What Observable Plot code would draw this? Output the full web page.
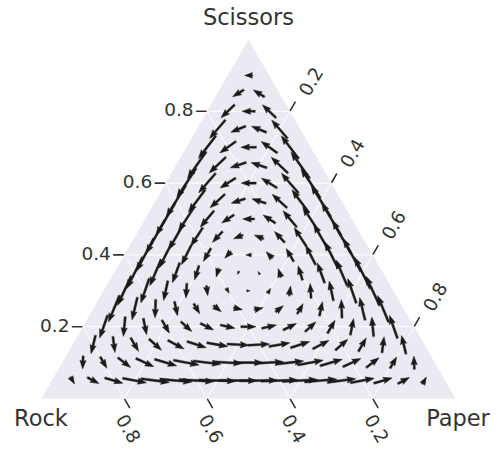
<!DOCTYPE html>
<html>
<head>
<meta charset="utf-8">
<script src="https://cdn.jsdelivr.net/npm/d3@7"></script>
<script src="https://cdn.jsdelivr.net/npm/@observablehq/plot@0.6"></script>
<style>
  html, body { margin: 0; padding: 0; background: #fff; }
</style>
</head>
<body>
<div id="chart"></div>
<script>
// Rock–paper–scissors replicator dynamics drawn on the simplex
const strategies = ["Rock", "Paper", "Scissors"];
// payoff[i][j]: payoff of strategy i when it meets strategy j
const payoff = [
  [0, -1, 1],
  [1, 0, -1],
  [-1, 1, 0]
];
const gridSteps = 20;                 // field sampled at interior multiples of 1/20
const tickValues = [0.2, 0.4, 0.6, 0.8];
const tickLabels = ["0.2", "0.4", "0.6", "0.8"];

const H = Math.sqrt(3) / 2;
// barycentric (rock, paper, scissors) -> cartesian
const toXY = ([r, p, s]) => [p + s / 2, s * H];

// replicator velocity at every interior grid point
const field = [];
for (let i = 1; i < gridSteps; i++) {
  for (let j = 1; i + j < gridSteps; j++) {
    const k = gridSteps - i - j;
    const share = [i, j, k].map((v) => v / gridSteps);
    const fitness = payoff.map((row) => d3.sum(row, (a, c) => a * share[c]));
    const mean = d3.sum(share, (v, c) => v * fitness[c]);
    const d = share.map((v, c) => v * (fitness[c] - mean));
    const [x, y] = toXY(share);
    const vx = d[1] + d[2] / 2, vy = d[2] * H;
    field.push({x, y, speed: Math.hypot(vx, vy), angle: Math.atan2(vx, vy) * 180 / Math.PI});
  }
}

const corners = [[1, 0, 0], [0, 1, 0], [0, 0, 1], [1, 0, 0]];

// white grid lines of constant scissors, paper and rock share
const gridLines = tickValues.flatMap((t) => [
  [[1 - t, 0, t], [0, 1 - t, t]],
  [[1 - t, t, 0], [0, t, 1 - t]],
  [[t, 1 - t, 0], [t, 0, 1 - t]]
]).map(([a, b]) => {
  const [x1, y1] = toXY(a), [x2, y2] = toXY(b);
  return {x1, y1, x2, y2};
});

// tick anchors on each edge
const axisPoints = (f) => tickValues.map((t, n) => {
  const [x, y] = toXY(f(t));
  return {x, y, label: tickLabels[n]};
});
const scissorsTicks = axisPoints((t) => [1 - t, 0, t]); // left edge
const paperTicks = axisPoints((t) => [0, t, 1 - t]);    // right edge
const rockTicks = axisPoints((t) => [t, 1 - t, 0]);     // bottom edge

// filled quiver arrow, tail at origin, pointing up
const shaft = 2.1, headWidth = 3 * shaft, headLength = 4.2 * shaft, headAxis = 3.8 * shaft;
const arrowShape = {
  draw(context, l) {
    const short = l < headLength;
    const s = short ? l / headLength : 1;
    const L = short ? headLength : l;
    const pts = [
      [-shaft / 2, 0], [-shaft / 2, L - headAxis], [-headWidth / 2, L - headLength], [0, L],
      [headWidth / 2, L - headLength], [shaft / 2, L - headAxis], [shaft / 2, 0]
    ];
    pts.forEach(([u, a], n) => n ? context.lineTo(u * s, -a * s) : context.moveTo(u * s, -a * s));
    context.closePath();
  }
};
// short tick stroke, leaving a small gap at the edge
const tickShape = {
  draw(context, l) {
    context.moveTo(0, -1);
    context.lineTo(0, -l);
  }
};

const ink = "#333";
const tickFont = 18.5, titleFont = 22.5;
const tickMark = (data, rotate) => Plot.vector(data, {
  x: "x", y: "y", length: 10.5, rotate, anchor: "start", shape: tickShape,
  stroke: ink, strokeWidth: 1.6
});
// strategy name placed at its vertex of the simplex
const vertexLabel = (n, dx, dy) => {
  const [x, y] = toXY(corners[n]);
  return Plot.text([strategies[n]], {x: () => x, y: () => y, text: (d) => d, dx, dy, fontSize: titleFont, fill: ink});
};

const chart = Plot.plot({
  width: 498,
  height: 451,
  marginLeft: 41,
  marginRight: 43,
  marginTop: 39,
  marginBottom: 53,
  x: {domain: [0, 1], axis: null},
  y: {domain: [0, H], axis: null},
  length: {domain: [0, 1], range: [0, 188]},
  style: {fontFamily: "DejaVu Sans", background: "white", color: ink},
  marks: [
    Plot.line(corners.map(toXY), {fill: "#eaeaf2", stroke: "none"}),
    Plot.link(gridLines, {x1: "x1", y1: "y1", x2: "x2", y2: "y2", stroke: "white", strokeWidth: 1}),
    Plot.vector(field, {
      x: "x", y: "y", length: "speed", rotate: "angle", anchor: "middle",
      shape: arrowShape, fill: "#1a1a1a", stroke: "#1a1a1a", strokeWidth: 0.4
    }),
    tickMark(scissorsTicks, -90),
    tickMark(paperTicks, 30),
    tickMark(rockTicks, 150),
    Plot.text(scissorsTicks, {x: "x", y: "y", text: "label", textAnchor: "end", dx: -13.5, dy: -1, fontSize: tickFont, fill: ink}),
    Plot.text(paperTicks, {x: "x", y: "y", text: "label", rotate: -60, dx: 21.5, dy: -29.5, fontSize: tickFont, fill: ink}),
    Plot.text(rockTicks, {x: "x", y: "y", text: "label", rotate: 60, dx: 3.5, dy: 30.5, fontSize: tickFont, fill: ink}),
    vertexLabel(0, -0.5, 20.5),
    vertexLabel(1, 2.5, 20.5),
    vertexLabel(2, 0, -22)
  ]
});

document.getElementById("chart").append(chart);
</script>
</body>
</html>
